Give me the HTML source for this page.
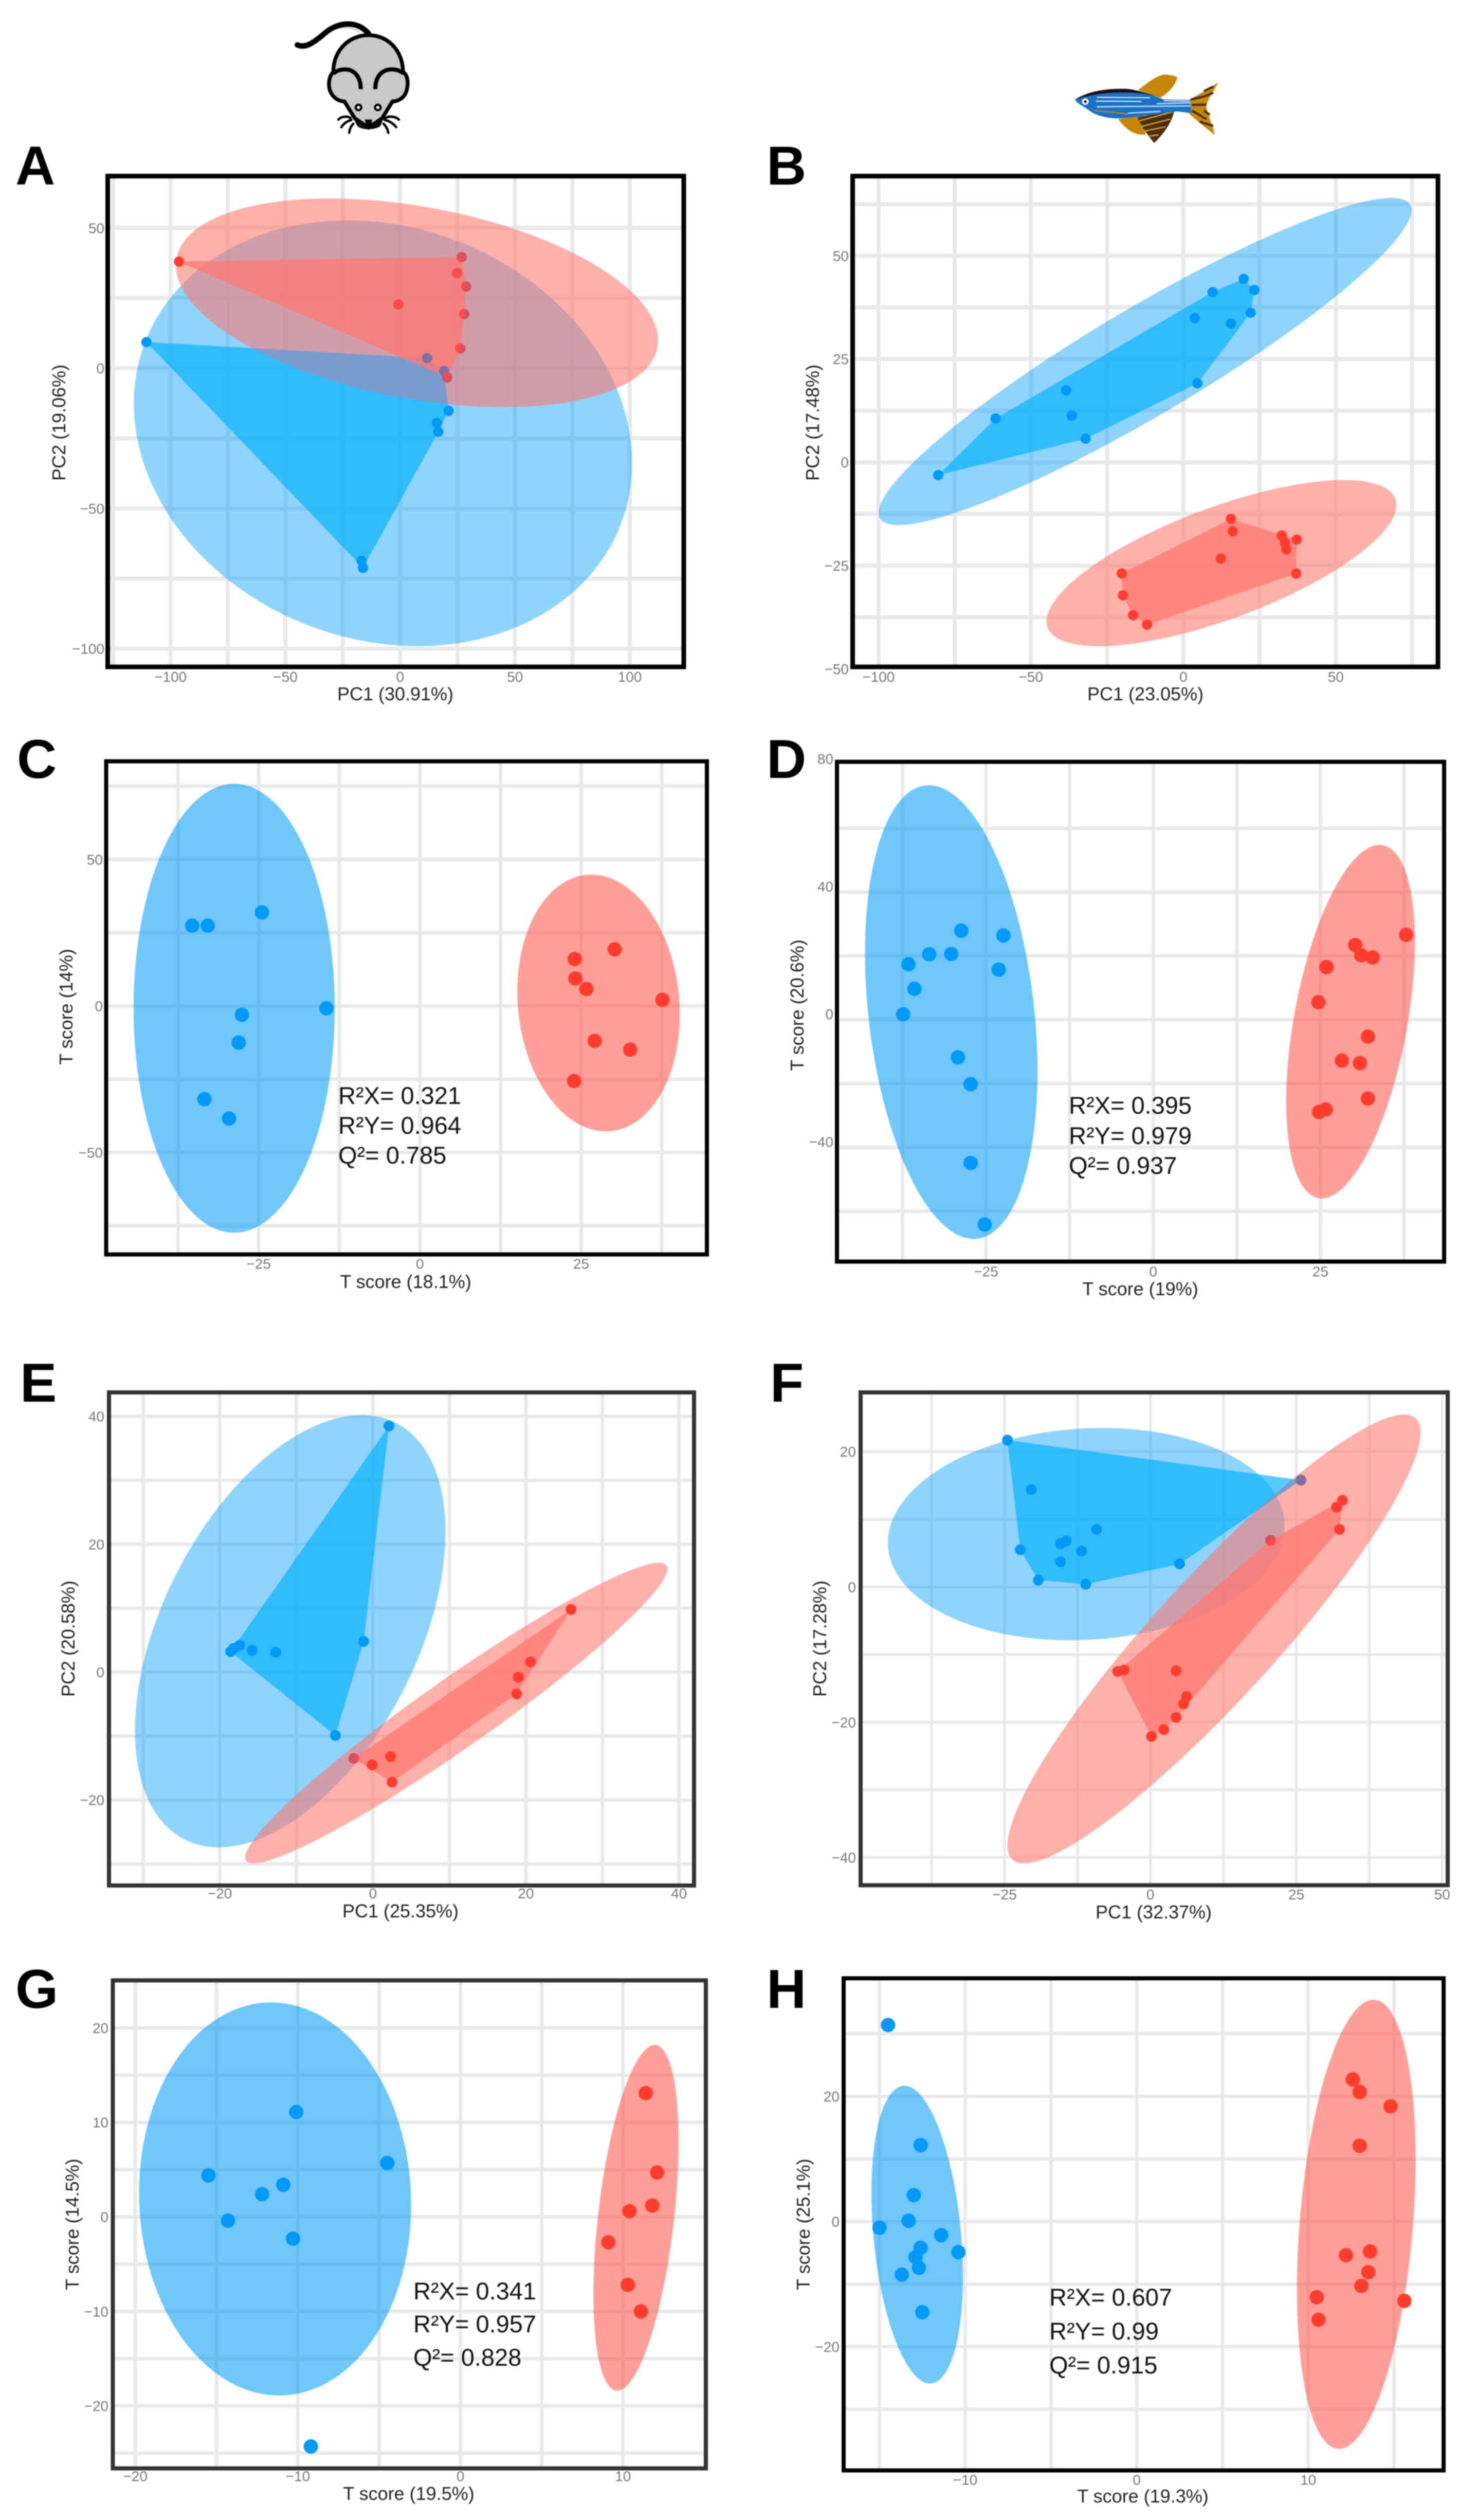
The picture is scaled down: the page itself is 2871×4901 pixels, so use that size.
<!DOCTYPE html>
<html lang="en">
<head>
<meta charset="utf-8">
<title>PCA and OPLS-DA score plots, mouse and zebrafish</title>
<style>
  html, body { margin: 0; padding: 0; background: #fff; }
  #figure { display: block; width: 2871px; height: 4901px; font-family: "Liberation Sans", Arial, sans-serif; filter: blur(1px); }
</style>
</head>
<body>
<svg id="figure" xmlns="http://www.w3.org/2000/svg" width="2871" height="4901" viewBox="0 0 2871 4901">
  <rect x="0" y="0" width="2871" height="4901" fill="#ffffff"/>

  <svg x="500" y="0" width="400" height="300" viewBox="0 0 1200 900">
    <path d="M650 195 C585 120 480 125 400 190 C335 245 285 285 235 262" fill="none" stroke="#000" stroke-width="32" stroke-linecap="round"/>
    <path d="M600 190 C550 150 480 150 420 195" fill="none" stroke="#999" stroke-width="4"/>
    <path d="M445 420 C445 290 540 205 650 205 C760 205 850 290 852 420 C885 440 880 500 876 510 C872 560 835 590 790 592 L730 690 L650 745 L570 690 L510 592 C460 590 424 550 420 500 C418 460 430 435 445 420 Z" fill="#c9c9c9" stroke="#000" stroke-width="22" stroke-linejoin="round"/>
    <path d="M605 520 C605 440 560 405 515 405 C485 405 460 415 445 430" fill="none" stroke="#000" stroke-width="24" stroke-linecap="butt"/>
    <path d="M690 520 C690 440 735 405 785 405 C815 405 840 415 855 430" fill="none" stroke="#000" stroke-width="24" stroke-linecap="butt"/>
    <circle cx="592" cy="627" r="16" fill="#fff" stroke="#000" stroke-width="13"/>
    <circle cx="705" cy="627" r="16" fill="#fff" stroke="#000" stroke-width="13"/>
    <path d="M560 685 C590 720 620 745 648 748 C680 745 710 720 740 685 L720 735 C690 760 610 760 585 735 Z" fill="#000"/>
    <path d="M628 698 L672 698 L665 730 L638 730 Z" fill="#000"/>
    <path d="M545 688 C520 675 490 680 475 698 M550 700 C530 705 505 720 492 742 M562 722 C548 735 540 752 538 775 M750 688 C775 675 810 680 828 698 M745 700 C770 705 795 720 812 742 M738 722 C752 735 762 752 766 775" fill="none" stroke="#000" stroke-width="14" stroke-linecap="round"/>
  </svg>

  <svg x="2050" y="100" width="400" height="200" viewBox="0 0 1200 600">
    <path d="M490 225 C540 190 590 145 640 135 C680 135 720 145 720 155 C710 200 660 250 620 270 Z" fill="#c8860b"/>
    <path d="M375 395 L520 375 L535 485 C480 490 430 470 375 395 Z" fill="#c8860b"/>
    <path d="M488 385 L702 345 C690 420 630 490 585 535 C550 490 510 440 488 385 Z" fill="#4d2d0c"/>
    <path d="M498 405 L695 352 M510 438 L680 395 M525 465 L650 440 M550 495 L610 487" fill="none" stroke="#dfa848" stroke-width="7"/>
    <path d="M790 280 C840 255 900 220 960 180 C940 220 895 280 890 320 C895 370 930 430 938 487 C890 450 830 400 790 365 L800 320 Z" fill="#c8860b"/>
    <path d="M800 280 C840 272 890 262 930 240 M805 312 L890 310 M805 347 C835 360 870 385 890 395 M875 232 L930 205 M875 345 L910 370 M850 410 L930 435" fill="none" stroke="#4d2d0c" stroke-width="13"/>
    <path d="M122 282 C190 240 300 225 420 225 C500 230 580 255 640 280 L800 283 L800 360 L720 350 C640 360 520 380 400 390 C320 395 240 375 200 340 C170 320 140 305 122 282 Z" fill="#1b72c4"/>
    <path d="M122 282 C190 235 300 215 420 218 C480 222 560 250 610 265 C540 245 480 240 420 240 C320 238 210 250 122 282 Z" fill="#1d0d14"/>
    <path d="M250 268 L560 270 M245 290 L510 292 M250 323 L800 318 M600 305 L800 300 M640 288 L795 290 M430 360 L620 350" fill="none" stroke="#cfe3f5" stroke-width="7"/>
    <path d="M235 345 C290 350 370 355 430 368" fill="none" stroke="#c8860b" stroke-width="7"/>
    <circle cx="183" cy="293" r="19" fill="#fff"/>
    <circle cx="183" cy="293" r="8" fill="#000"/>
  </svg>

  <g id="panel-a"></g>
  <g id="panel-b"></g>
  <g id="panel-c"></g>
  <g id="panel-d"></g>
  <g id="panel-e"></g>
  <g id="panel-f"></g>
  <g id="panel-g"></g>
  <g id="panel-h"></g>
</svg>

<script>
// ---- Panel A data ----
const aXTicks = [-100, -50, 0, 50, 100];
const aYTicks = [50, 0, -50, -100];
const aXGrid = [-125, -100, -75, -50, -25, 0, 25, 50, 75, 100];
const aYGrid = [50, 25, 0, -25, -50, -75, -100];
const aBlueX = [-110.5, 21.1, 16, 16.6, -16.8, -16.2, 11.7, 19.1];
const aBlueY = [9.3, -15.2, -19.5, -22.7, -68.7, -71.2, 3.6, -1];
const aRedX = [-96.3, 26.8, 24.8, 28.7, -0.8, 27.9, 26.2, 20.5];
const aRedY = [38, 39.6, 33.9, 29.1, 22.7, 19.3, 7, -3.3];
const aBlueEllipse = [-7.5, -23.2, 108.5, 75.9, -0.14];
const aRedEllipse = [7.3, 23.3, 105, 37.2, -0.36];

// ---- Panel B data ----
const bXTicks = [-100, -50, 0, 50];
const bYTicks = [50, 25, 0, -25, -50];
const bXGrid = [-100, -75, -50, -25, 0, 25, 50, 75];
const bYGrid = [62.5, 50, 37.5, 25, 12.5, 0, -12.5, -25, -37.5];
const bBlueX = [-80.4, -61.6, -38.4, -36.6, -32.1, 4.6, 3.7, 9.6, 19.8, 23.3, 22.1, 15.6];
const bBlueY = [-3.1, 10.6, 17.4, 11.3, 5.7, 19.1, 34.9, 41.2, 44.4, 41.7, 36.2, 33.6];
const bRedX = [15.6, 16.2, 32.3, 33.3, 33.8, 37.2, 37, 12.3, -20.2, -19.8, -16.5, -11.9];
const bRedY = [-13.7, -16.7, -17.7, -19.4, -21.1, -18.7, -26.9, -23.3, -26.9, -32.2, -37, -39.3];
const bBlueEllipse = [-12.6, 24.4, 87.4, 39.6, 0.925];
const bRedEllipse = [12.5, -24.4, 57.4, 20.1, 0.7];

// ---- Panel C data ----
const cXTicks = [-25, 0, 25];
const cYTicks = [50, 0, -50];
const cXGrid = [-37.5, -25, -12.5, 0, 12.5, 25, 37.5];
const cYGrid = [75, 50, 25, 0, -25, -50, -75];
const cBlueX = [-35.3, -32.9, -24.5, -27.6, -28.1, -14.5, -33.4, -29.6];
const cBlueY = [27.4, 27.4, 31.9, -3, -12.5, -0.8, -31.8, -38.4];
const cRedX = [24, 30.2, 24.1, 25.8, 37.6, 27.1, 32.6, 23.9];
const cRedY = [16, 19.3, 9.4, 5.8, 2.1, -11.9, -14.9, -25.6];
const cBlueEllipse = [-28.8, -0.8, 15.6, 76.6, 0];
const cRedEllipse = [27.7, 1, 12.6, 43.8, -0.09];
const cStats = ['R²X= 0.321', 'R²Y= 0.964', 'Q²= 0.785'];

// ---- Panel D data ----
const dXTicks = [-25, 0, 25];
const dYTicks = [80, 40, 0, -40];
const dXGrid = [-37.5, -25, -12.5, 0, 12.5, 25, 37.5];
const dYGrid = [60, 40, 20, 0, -20, -40, -60];
const dBlueX = [-28.7, -22.4, -33.5, -30.2, -36.6, -23.1, -35.7, -37.4, -29.2, -27.3, -27.3, -25.2];
const dBlueY = [27.9, 26.4, 20.5, 20.6, 17.4, 15.7, 9.7, 1.7, -11.8, -20.2, -44.9, -64.2];
const dRedX = [37.8, 30.2, 31.1, 32.8, 25.9, 24.7, 32.1, 28.2, 30.9, 32.1, 25.8, 24.8];
const dRedY = [26.6, 23.4, 20.2, 19.5, 16.5, 5.5, -5.3, -12.8, -13.6, -24.7, -28.1, -28.9];
const dBlueEllipse = [-30.2, 2.4, 12.9, 71.1, -0.26];
const dRedEllipse = [29.5, -0.6, 9.63, 55.4, 0.45];
const dStats = ['R²X= 0.395', 'R²Y= 0.979', 'Q²= 0.937'];

// ---- Panel E data ----
const eXTicks = [-20, 0, 20, 40];
const eYTicks = [40, 20, 0, -20];
const eXGrid = [-30, -20, -10, 0, 10, 20, 30, 40];
const eYGrid = [40, 30, 20, 10, 0, -10, -20, -30];
const eBlueX = [2.1, -1.2, -17.4, -18.2, -18.6, -15.8, -12.7, -4.9];
const eBlueY = [38.5, 4.8, 4.2, 3.7, 3.2, 3.4, 3.1, -9.9];
const eRedX = [25.9, 20.6, 19, 18.8, 2.3, -2.5, -0.1, 2.5];
const eRedY = [9.8, 1.6, -0.8, -3.4, -13.2, -13.5, -14.5, -17.2];
const eBlueEllipse = [-10.8, 6.4, 20.3, 33.8, 0.46];
const eRedEllipse = [10.9, -6.4, 27.6, 23.5, 0.96];

// ---- Panel F data ----
const fXTicks = [-25, 0, 25, 50];
const fYTicks = [20, 0, -20, -40];
const fXGrid = [-37.5, -25, -12.5, 0, 12.5, 25, 37.5, 50];
const fYGrid = [20, 10, 0, -10, -20, -30, -40];
const fBlueX = [-24.5, -20.4, -9.2, -14.4, -15.4, -11.8, -22.3, -15.4, -19.2, -11.1, 5, 25.8];
const fBlueY = [21.7, 14.4, 8.5, 6.8, 6.4, 5.3, 5.5, 3.7, 1, 0.4, 3.4, 15.8];
const fRedX = [32.9, 31.9, 32.4, 20.6, -5.6, -4.5, 4.4, 6.2, 5.7, 4.4, 2.3, 0.2];
const fRedY = [12.8, 11.8, 8.5, 6.9, -12.5, -12.3, -12.4, -16.2, -17.3, -19.3, -21.1, -22.1];
const fBlueEllipse = [-11, 7.8, 34, 15.7, 0.08];
const fRedEllipse = [10.9, -7.7, 35.4, 33.2, 0.92];

// ---- Panel G data ----
const gXTicks = [-20, -10, 0, 10];
const gYTicks = [20, 10, 0, -10, -20];
const gXGrid = [-20, -15, -10, -5, 0, 5, 10];
const gYGrid = [20, 15, 10, 5, 0, -5, -10, -15, -20, -25];
const gBlueX = [-10.1, -4.5, -15.5, -10.9, -12.2, -14.3, -10.3, -9.2];
const gBlueY = [11.1, 5.7, 4.4, 3.4, 2.4, -0.4, -2.3, -24.3];
const gRedX = [11.4, 12.1, 11.8, 10.4, 9.1, 10.3, 11.1];
const gRedY = [13.1, 4.7, 1.2, 0.6, -2.7, -7.2, -10];
const gBlueEllipse = [-11.4, 1.9, 8.37, 20.8, -0.03];
const gRedEllipse = [10.8, -0.1, 2.62, 18.3, 0.44];
const gStats = ['R²X= 0.341', 'R²Y= 0.957', 'Q²= 0.828'];

// ---- Panel H data ----
const hXTicks = [-10, 0, 10];
const hYTicks = [20, 0, -20];
const hXGrid = [-15, -10, -5, 0, 5, 10, 15];
const hYGrid = [30, 20, 10, 0, -10, -20, -30];
const hBlueX = [-14.5, -12.6, -13, -13.3, -15, -11.4, -10.4, -12.6, -12.9, -12.7, -13.7, -12.5];
const hBlueY = [31.4, 12.2, 4.2, 0.1, -1, -2.2, -4.9, -4.2, -5.7, -7.4, -8.5, -14.5];
const hRedX = [12.6, 13, 14.8, 13, 13.6, 12.2, 13.5, 13.1, 10.5, 15.6, 10.6];
const hRedY = [22.7, 20.7, 18.4, 12.1, -4.8, -5.4, -8.1, -10.3, -12.1, -12.7, -15.7];
const hBlueEllipse = [-12.8, -2.1, 2.67, 23.8, -0.28];
const hRedEllipse = [12.8, -0.45, 3.46, 35.9, 0.29];
const hStats = ['R²X= 0.607', 'R²Y= 0.99', 'Q²= 0.915'];

// ---- Layout (pixels), kept apart from the data ----
const panels = [
  { id: 'panel-a', letter: 'A', lx: 30, ly: 359, L: 209.5, R: 1330, T: 342.5, B: 1297, stroke: 9, color: '#000', x0: 778.4, xk: 4.467, y0: 716, yk: 5.455, r: 10, gw: 8, yLabelDy: 0,
    xTickY: 1326, yTickX: 203, xTitle: 'PC1 (30.91%)', xtx: 769, xty: 1362, yTitle: 'PC2 (19.06%)', ytx: 114, yty: 822,
    xTicks: aXTicks, yTicks: aYTicks, xGrid: aXGrid, yGrid: aYGrid, blueX: aBlueX, blueY: aBlueY, redX: aRedX, redY: aRedY, blueE: aBlueEllipse, redE: aRedEllipse, hull: true },
  { id: 'panel-b', letter: 'B', lx: 1491, ly: 359, L: 1658.5, R: 2797, T: 342.5, B: 1297, stroke: 9, color: '#000', x0: 2301.8, xk: 5.93, y0: 899.1, yk: 8.036, r: 10, gw: 8, yLabelDy: 0,
    xTickY: 1326, yTickX: 1651, xTitle: 'PC1 (23.05%)', xtx: 2228, xty: 1362, yTitle: 'PC2 (17.48%)', ytx: 1580, yty: 822,
    xTicks: bXTicks, yTicks: bYTicks, xGrid: bXGrid, yGrid: bYGrid, blueX: bBlueX, blueY: bBlueY, redX: bRedX, redY: bRedY, blueE: bBlueEllipse, redE: bRedEllipse, hull: true },
  { id: 'panel-c', letter: 'C', lx: 33, ly: 1513, L: 206.5, R: 1375, T: 1480.6, B: 2439.7, stroke: 8, color: '#000', x0: 816.8, xk: 12.546, y0: 1956.4, yk: 5.7, r: 14, gw: 7, yLabelDy: 0,
    xTickY: 2467.5, yTickX: 200, xTitle: 'T score (18.1%)', xtx: 789, xty: 2505, yTitle: 'T score (14%)', ytx: 128, yty: 1958,
    xTicks: cXTicks, yTicks: cYTicks, xGrid: cXGrid, yGrid: cYGrid, blueX: cBlueX, blueY: cBlueY, redX: cRedX, redY: cRedY, blueE: cBlueEllipse, redE: cRedEllipse, hull: false,
    stats: cStats, sx: 658, sy: [2147, 2205, 2263] },
  { id: 'panel-d', letter: 'D', lx: 1491, ly: 1513, L: 1628, R: 2809, T: 1481.6, B: 2453.6, stroke: 8, color: '#000', x0: 2243.2, xk: 13.01, y0: 1983.2, yk: 6.206, r: 14, gw: 7, yLabelDy: -11,
    xTickY: 2482.5, yTickX: 1621, xTitle: 'T score (19%)', xtx: 2218, xty: 2519, yTitle: 'T score (20.6%)', ytx: 1550, yty: 1955,
    xTicks: dXTicks, yTicks: dYTicks, xGrid: dXGrid, yGrid: dYGrid, blueX: dBlueX, blueY: dBlueY, redX: dRedX, redY: dRedY, blueE: dBlueEllipse, redE: dRedEllipse, hull: false,
    stats: dStats, sx: 2079, sy: [2166, 2225, 2283] },
  { id: 'panel-e', letter: 'E', lx: 39, ly: 2726, L: 212, R: 1350, T: 2708, B: 3667, stroke: 8, color: '#333', x0: 725.3, xk: 14.884, y0: 3252, yk: 12.436, r: 10.5, gw: 7, yLabelDy: 0,
    xTickY: 3692, yTickX: 203, xTitle: 'PC1 (25.35%)', xtx: 779, xty: 3729, yTitle: 'PC2 (20.58%)', ytx: 132, yty: 3187,
    xTicks: eXTicks, yTicks: eYTicks, xGrid: eXGrid, yGrid: eYGrid, blueX: eBlueX, blueY: eBlueY, redX: eRedX, redY: eRedY, blueE: eBlueEllipse, redE: eRedEllipse, hull: true },
  { id: 'panel-f', letter: 'F', lx: 1498, ly: 2726, L: 1674, R: 2816, T: 2708, B: 3666.5, stroke: 8, color: '#333', x0: 2237.7, xk: 11.352, y0: 3086.3, yk: 13.153, r: 10.5, gw: 5.5, yLabelDy: 0,
    xTickY: 3694, yTickX: 1665, xTitle: 'PC1 (32.37%)', xtx: 2244, xty: 3731, yTitle: 'PC2 (17.28%)', ytx: 1594, yty: 3187,
    xTicks: fXTicks, yTicks: fYTicks, xGrid: fXGrid, yGrid: fYGrid, blueX: fBlueX, blueY: fBlueY, redX: fRedX, redY: fRedY, blueE: fBlueEllipse, redE: fRedEllipse, hull: true },
  { id: 'panel-g', letter: 'G', lx: 30, ly: 3905, L: 219.5, R: 1373, T: 3851.5, B: 4800.6, stroke: 8, color: '#333', x0: 895.6, xk: 31.62, y0: 4311.5, yk: 18.376, r: 14, gw: 7, yLabelDy: 0,
    xTickY: 4825.5, yTickX: 211, xTitle: 'T score (19.5%)', xtx: 795, xty: 4862, yTitle: 'T score (14.5%)', ytx: 140, yty: 4326,
    xTicks: gXTicks, yTicks: gYTicks, xGrid: gXGrid, yGrid: gYGrid, blueX: gBlueX, blueY: gBlueY, redX: gRedX, redY: gRedY, blueE: gBlueEllipse, redE: gRedEllipse, hull: false,
    stats: gStats, sx: 804, sy: [4472, 4536, 4601] },
  { id: 'panel-h', letter: 'H', lx: 1491, ly: 3905, L: 1641, R: 2808, T: 3847.5, B: 4804.6, stroke: 8, color: '#000', x0: 2211.1, xk: 33.36, y0: 4320.4, yk: 12.168, r: 14, gw: 6.5, yLabelDy: 0,
    xTickY: 4832.5, yTickX: 1633, xTitle: 'T score (19.3%)', xtx: 2223, xty: 4867, yTitle: 'T score (25.1%)', ytx: 1562, yty: 4326,
    xTicks: hXTicks, yTicks: hYTicks, xGrid: hXGrid, yGrid: hYGrid, blueX: hBlueX, blueY: hBlueY, redX: hRedX, redY: hRedY, blueE: hBlueEllipse, redE: hRedEllipse, hull: false,
    stats: hStats, sx: 2041, sy: [4484, 4550, 4616] }
];

const SVG_NS = 'http://www.w3.org/2000/svg';
const BLUE_POINT = '#0099f8';
const BLUE_POINT_OVERLAP = '#7f6fa0';
const RED_POINT = '#ff3c2d';
const RED_POINT_OVERLAP = '#d65060';
const RED_POINT_IN_HULL = '#f94b50';

function mk(parent, tag, attrs, text) {
  const el = document.createElementNS(SVG_NS, tag);
  for (const k in attrs) el.setAttribute(k, attrs[k]);
  if (text !== undefined) el.textContent = text;
  parent.appendChild(el);
  return el;
}

function fmt(v) {
  return v < 0 ? '\u2212' + Math.abs(v) : String(v);
}

function convexHull(xs, ys) {
  const pts = xs.map((x, i) => [x, ys[i]]).sort((a, b) => a[0] - b[0] || a[1] - b[1]);
  const cross = (o, a, b) => (a[0] - o[0]) * (b[1] - o[1]) - (a[1] - o[1]) * (b[0] - o[0]);
  const lower = [];
  for (const p of pts) {
    while (lower.length >= 2 && cross(lower[lower.length - 2], lower[lower.length - 1], p) <= 0) lower.pop();
    lower.push(p);
  }
  const upper = [];
  for (const p of pts.slice().reverse()) {
    while (upper.length >= 2 && cross(upper[upper.length - 2], upper[upper.length - 1], p) <= 0) upper.pop();
    upper.push(p);
  }
  return lower.slice(0, -1).concat(upper.slice(0, -1));
}

function ellipsePath(e, sx, sy) {
  const [cx, cy, rx, ry, rho] = e;
  const q = Math.sqrt(1 - rho * rho);
  const parts = [];
  for (let i = 0; i < 120; i++) {
    const t = i / 120 * Math.PI * 2;
    const dx = cx + rx * Math.cos(t);
    const dy = cy + ry * (rho * Math.cos(t) + q * Math.sin(t));
    parts.push((i ? 'L' : 'M') + sx(dx).toFixed(1) + ' ' + sy(dy).toFixed(1));
  }
  return parts.join(' ') + ' Z';
}

function insideEllipse(x, y, e) {
  const dx = (x - e[0]) / e[2];
  const dy = (y - e[1]) / e[3];
  const rho = e[4];
  return (dx * dx - 2 * rho * dx * dy + dy * dy) / (1 - rho * rho) <= 1;
}

function hullPath(xs, ys, sx, sy) {
  return convexHull(xs, ys).map((p, i) => (i ? 'L' : 'M') + sx(p[0]).toFixed(1) + ' ' + sy(p[1]).toFixed(1)).join(' ') + ' Z';
}

panels.forEach(function (p) {
  const g = document.getElementById(p.id);
  const sx = v => p.x0 + v * p.xk;
  const sy = v => p.y0 - v * p.yk;
  const defs = mk(g, 'defs', {});
  const clip = mk(defs, 'clipPath', { id: p.id + '-clip' });
  mk(clip, 'rect', { x: p.L, y: p.T, width: p.R - p.L, height: p.B - p.T });

  const blueEllipseD = ellipsePath(p.blueE, sx, sy);
  const redEllipseD = ellipsePath(p.redE, sx, sy);

  const letter = mk(g, 'text', { x: p.lx, y: p.ly, 'font-size': 107, 'font-weight': 700, fill: '#000' }, p.letter);
  
  

  const plot = mk(g, 'g', { 'clip-path': 'url(#' + p.id + '-clip)' });
  
  

  p.xGrid.forEach(function (v) {
    const line = mk(plot, 'line', { x1: sx(v), x2: sx(v), y1: p.T, y2: p.B, stroke: '#e9e9e9', 'stroke-width': p.gw });
    
    
  });
  p.yGrid.forEach(function (v) {
    const line = mk(plot, 'line', { x1: p.L, x2: p.R, y1: sy(v), y2: sy(v), stroke: '#e9e9e9', 'stroke-width': p.gw });
    
    
  });

  const be = mk(plot, 'path', { d: blueEllipseD, fill: 'rgb(0,156,250)', 'fill-opacity': p.hull ? 0.44 : 0.565 });
  
  

  if (p.hull) {
    const blueHullD = hullPath(p.blueX, p.blueY, sx, sy);
    const redHullD = hullPath(p.redX, p.redY, sx, sy);
    const bh = mk(plot, 'path', { d: blueHullD, fill: 'rgb(0,176,252)', 'fill-opacity': 0.66 });
    
    

    const re = mk(plot, 'path', { d: redEllipseD, fill: 'rgb(255,119,108)', 'fill-opacity': 0.58 });
    
    

    const redEllipseClip = mk(defs, 'clipPath', { id: p.id + '-red-ellipse-clip' });
    mk(redEllipseClip, 'path', { d: redEllipseD });
    const overlap = mk(plot, 'path', { d: blueHullD, fill: 'rgb(110,157,212)', 'fill-opacity': 0.8, 'clip-path': 'url(#' + p.id + '-red-ellipse-clip)' });
    
    

    const rh = mk(plot, 'path', { d: redHullD, fill: 'rgb(255,120,115)', 'fill-opacity': 0.77 });
    
    

    const redHullClip = mk(defs, 'clipPath', { id: p.id + '-red-hull-clip' });
    mk(redHullClip, 'path', { d: redHullD });
  } else {
    const re = mk(plot, 'path', { d: redEllipseD, fill: 'rgb(255,60,45)', 'fill-opacity': 0.49 });
    
    
  }

  p.blueX.forEach(function (v, i) {
    const under = p.hull && insideEllipse(v, p.blueY[i], p.redE);
    const c = mk(plot, 'circle', { cx: sx(v), cy: sy(p.blueY[i]), r: p.r, fill: under ? BLUE_POINT_OVERLAP : BLUE_POINT });
    
    
  });
  p.redX.forEach(function (v, i) {
    const under = p.hull && insideEllipse(v, p.redY[i], p.blueE);
    const c = mk(plot, 'circle', { cx: sx(v), cy: sy(p.redY[i]), r: p.r, fill: under ? RED_POINT_OVERLAP : RED_POINT });
    
    
    if (under) {
      const h = mk(plot, 'circle', { cx: sx(v), cy: sy(p.redY[i]), r: p.r, fill: RED_POINT_IN_HULL, 'clip-path': 'url(#' + p.id + '-red-hull-clip)' });
      
      
    }
  });

  const frame = mk(g, 'rect', { x: p.L, y: p.T, width: p.R - p.L, height: p.B - p.T, fill: 'none', stroke: p.color, 'stroke-width': p.stroke });
  
  

  p.xTicks.forEach(function (v) {
    const t = mk(g, 'text', { x: sx(v), y: p.xTickY, 'font-size': 28, fill: '#777', 'text-anchor': 'middle' }, fmt(v));
    
    
  });
  p.yTicks.forEach(function (v) {
    const t = mk(g, 'text', { x: p.yTickX, y: sy(v) + 10 + p.yLabelDy, 'font-size': 28, fill: '#777', 'text-anchor': 'end' }, fmt(v));
    
    
  });

  const xt = mk(g, 'text', { x: p.xtx, y: p.xty, 'font-size': 36, fill: '#222', 'text-anchor': 'middle' }, p.xTitle);
  
  
  const yt = mk(g, 'text', { x: 0, y: 0, 'font-size': 36, fill: '#222', 'text-anchor': 'middle', transform: 'translate(' + (p.ytx + 13) + ' ' + p.yty + ') rotate(-90)' }, p.yTitle);
  
  

  if (p.stats) {
    p.stats.forEach(function (s, i) {
      const t = mk(g, 'text', { x: p.sx, y: p.sy[i], 'font-size': 47, fill: '#111' }, s);
      
      
    });
  }
});
</script>
</body>
</html>
